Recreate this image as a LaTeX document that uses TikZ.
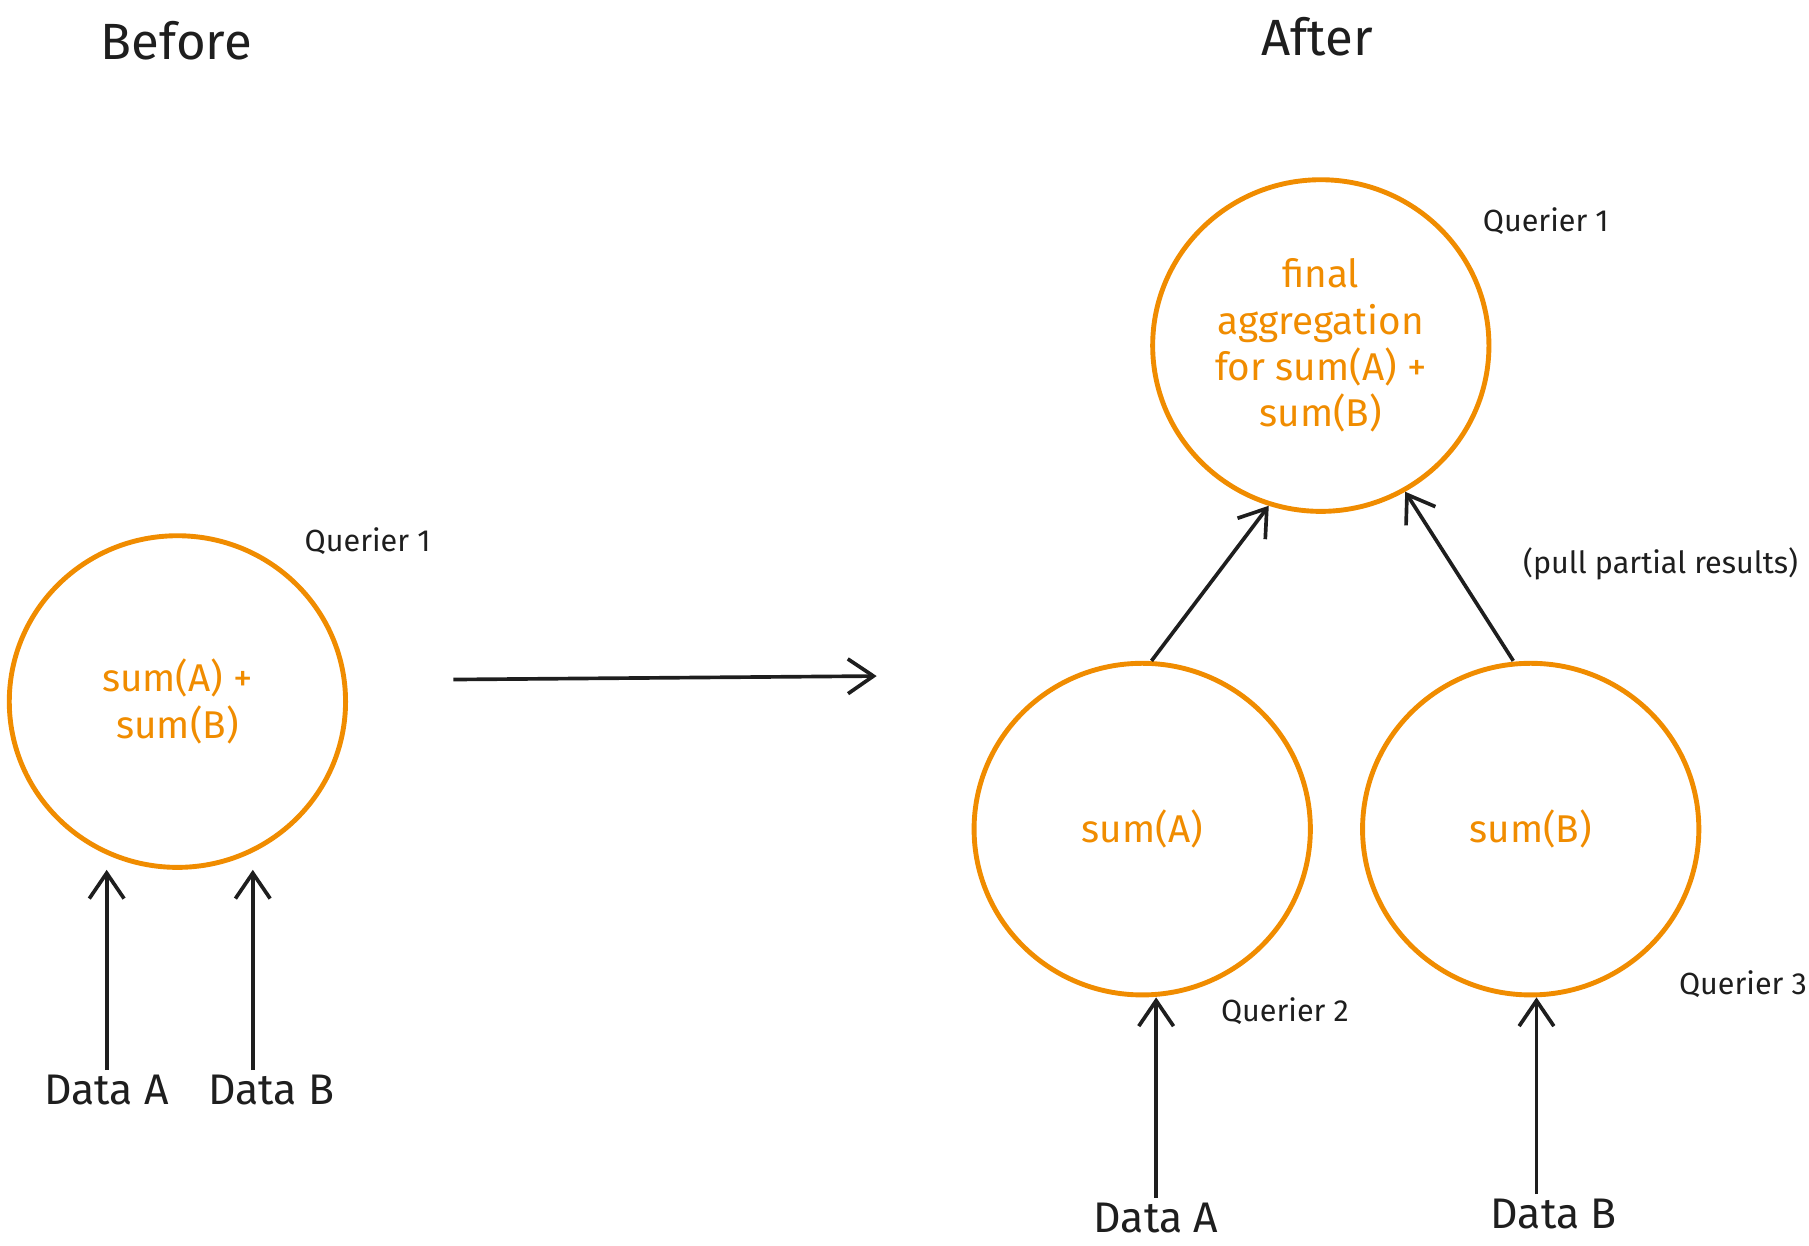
\documentclass[tikz,border=0pt]{standalone}
\usepackage{fontspec}
\setmainfont{Fira Sans}
\usetikzlibrary{arrows.meta,shapes.geometric,positioning}
\definecolor{exorange}{HTML}{F08C00}
\definecolor{exink}{HTML}{1E1E1E}

\begin{document}
\begin{tikzpicture}[x=0.1mm,y=-0.1mm,
  blob/.style={ellipse,draw=exorange,line width=1.2pt,minimum width=29mm,minimum height=28.6mm,
    inner sep=0pt,text=exorange,align=center,font=\fontsize{9.5}{11.4}\selectfont},
  title/.style={text=exink,font=\fontsize{12.5}{15}\selectfont},
  tag/.style={text=exink,font=\fontsize{7.5}{9}\selectfont},
  datalbl/.style={text=exink,font=\fontsize{10.5}{12}\selectfont,inner sep=1pt},
  feed/.style={draw=exink,line width=0.9pt,-{Straight Barb[length=2.2mm,width=3mm]}}]
\useasboundingbox (0,0) rectangle (1560,1074);

% before
\node[title] (before) at (152,35) {Before};
\node[blob] (q1old) at (153,605) {sum(A) +\\sum(B)};
\node[tag] (q1oldlbl) at (317,467) {Querier 1};
\node[datalbl] (oldA) at (92,940) {Data A};
\node[datalbl] (oldB) at (234,940) {Data B};
\draw[feed] (oldA.north) -- (oldA.north |- q1old.south);
\draw[feed] ([xshift=-1.6mm]oldB.north) -- ([xshift=-1.6mm]oldB.north |- q1old.south);

% change
\coordinate (from) at (391,586);
\coordinate (to) at (756,583);
\draw[feed] (from) -- (to);

% after
\node[title] (after) at (1136,32) {After};
\node[blob] (final) at (1139,298) {final\\aggregation\\for sum(A) +\\sum(B)};
\node[tag] (finallbl) at (1333,191) {Querier 1};
\node[blob] (sumA) at (985,715) {sum(A)};
\node[tag] (sumAlbl) at (1108,872) {Querier 2};
\node[blob] (sumB) at (1320,715) {sum(B)};
\node[tag] (sumBlbl) at (1503,849) {Querier 3};
\node[tag] (pull) at (1432,486) {(pull partial results)};
\node[datalbl] (newA) at (997,1050) {Data A};
\node[datalbl] (newB) at (1340,1047) {Data B};
\draw[feed] ([xshift=0.8mm]sumA.north) -- (final.252);
\draw[feed] ([xshift=-1.5mm]sumB.north) -- (final.-60);
\draw[feed] (newA.north) -- (newA.north |- sumA.south);
\draw[feed] ([xshift=-1.5mm]newB.north) -- ([xshift=-1.5mm]newB.north |- sumB.south);
\end{tikzpicture}
\end{document}
